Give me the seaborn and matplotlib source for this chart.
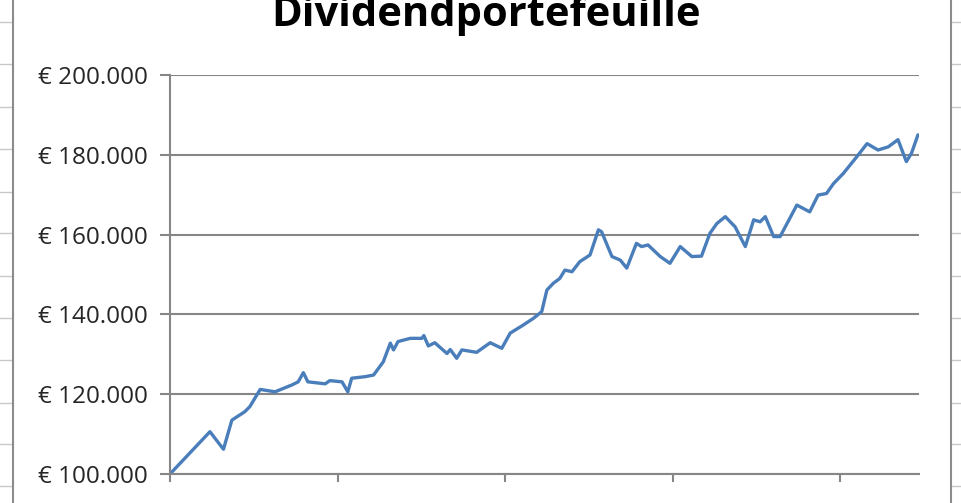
import numpy as np
import pandas as pd
import matplotlib
matplotlib.use("Agg")
import matplotlib.pyplot as plt
from matplotlib.lines import Line2D
from matplotlib.ticker import FuncFormatter
import seaborn as sns

# portfolio value (x in weeks since start)
weeks = [0, 6.2, 8.3, 9.6, 11.6, 12.4, 14.0, 16.3, 18.9, 19.9, 20.7, 21.4, 24.1, 24.8,
         26.7, 27.6, 28.2, 30.3, 31.6, 33.1, 34.2, 34.7, 35.4, 37.3, 39.1, 39.4, 40.1,
         41.1, 43.0, 43.5, 44.5, 45.3, 47.6, 49.7, 51.5, 52.8, 54.8, 56.4, 57.7, 58.5,
         59.5, 60.5, 61.3, 62.4, 63.6, 65.2, 66.5, 67.0, 68.6, 69.9, 70.9, 72.4, 73.2,
         74.2, 76.1, 77.6, 79.2, 81.0, 82.5, 83.8, 84.9, 86.2, 87.2, 87.7, 89.3, 90.6,
         91.6, 92.4, 93.7, 94.7, 97.3, 99.3, 100.6, 101.9, 103.0, 104.5, 106.6, 108.2,
         109.9, 111.5, 113.0, 114.3, 115.1, 116.1]
value = [100000, 110600, 106200, 113500, 115600, 116900, 121200, 120600, 122300, 123100,
         125400, 123100, 122600, 123400, 123100, 120600, 124000, 124400, 124800, 128100,
         132800, 131100, 133200, 134000, 134000, 134700, 132100, 132900, 130200, 131200,
         129000, 131100, 130500, 132900, 131500, 135300, 137300, 139000, 140700, 146100,
         147800, 149000, 151100, 150700, 153200, 154900, 161200, 160700, 154500, 153600,
         151600, 157800, 157000, 157400, 154500, 152800, 157000, 154500, 154600, 160300,
         162800, 164500, 162800, 162000, 157000, 163700, 163200, 164500, 159500, 159500,
         167400, 165700, 169900, 170300, 172800, 175300, 179500, 182800, 181200, 182000,
         183800, 178300, 180400, 185000]
y_ticks = [100000, 120000, 140000, 160000, 180000, 200000]
x_ticks = [0, 26, 52, 78, 104]

title = "Dividendportefeuille"

df = pd.DataFrame({"week": weeks, "waarde": value})

sns.set_style("white")
plt.rcParams["font.family"] = ["Open Sans", "DejaVu Sans"]

fig = plt.figure(figsize=(9.62, 5.03), dpi=100)
ax = fig.add_axes([170 / 962, 29 / 503, 749 / 962, 399 / 503])

grey = "#868686"
sns.lineplot(data=df, x="week", y="waarde", ax=ax, color="#4a7ebb", linewidth=2.4)

ax.set_ylim(100000, 200000)
ax.set_xlim(0, 749 / 167.5 * 26)
ax.set_yticks(y_ticks)
ax.set_xticks(x_ticks)
ax.set_xticklabels([])
ax.yaxis.set_major_formatter(FuncFormatter(lambda v, p: "€ " + f"{int(v):,}".replace(",", ".")))
ax.tick_params(axis="y", length=7, width=1.5, color=grey, labelsize=17.5, pad=9, left=True)
ax.tick_params(axis="x", length=6, width=1.5, color=grey, bottom=True, direction="out")
ax.set_xlabel("")
ax.set_ylabel("")
ax.grid(axis="y", color=grey, linewidth=1.5)
ax.grid(axis="x", visible=False)
for s in ["top", "right"]:
    ax.spines[s].set_visible(False)
for s in ["left", "bottom"]:
    ax.spines[s].set_color(grey)
    ax.spines[s].set_linewidth(1.5)

fig.text(486 / 962, 1 - 26 / 503, title, ha="center", va="baseline",
         fontsize=30, fontweight="bold", color="black")

# spreadsheet background left and right of the chart object
for yy in [21.7, 64.3, 106.7, 149, 191.7, 233.3, 276, 317.7, 360.3, 402.7, 444.3, 486]:
    fy = 1 - yy / 503
    fig.add_artist(Line2D([0, 13 / 962], [fy, fy], color="#c8c8c8", lw=1))
    fig.add_artist(Line2D([951 / 962, 1], [fy, fy], color="#c8c8c8", lw=1))
for xx in [13, 951]:
    fig.add_artist(Line2D([xx / 962, xx / 962], [0, 1], color="#8c8c8c", lw=1.5))

fig.savefig("out.png", dpi=100)
